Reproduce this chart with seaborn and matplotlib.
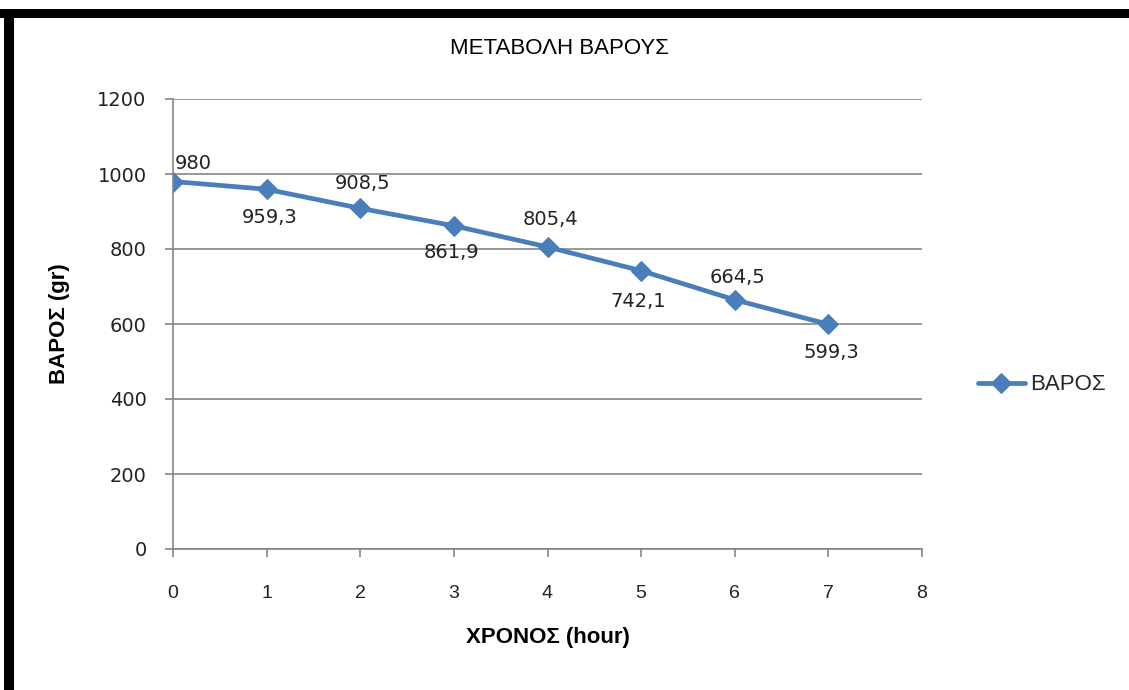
import matplotlib
matplotlib.use("Agg")
import matplotlib.pyplot as plt
import seaborn as sns
import pandas as pd
from matplotlib.patches import Rectangle

hours = [0, 1, 2, 3, 4, 5, 6, 7]
weights = [980, 959.3, 908.5, 861.9, 805.4, 742.1, 664.5, 599.3]
point_labels = ["980", "959,3", "908,5", "861,9", "805,4", "742,1", "664,5", "599,3"]
series_name = "ΒΑΡΟΣ"
title = "ΜΕΤΑΒΟΛΗ ΒΑΡΟΥΣ"
xlabel = "ΧΡΟΝΟΣ (hour)"
ylabel = "ΒΑΡΟΣ (gr)"
yticks = [0, 200, 400, 600, 800, 1000, 1200]
xticks = [0, 1, 2, 3, 4, 5, 6, 7, 8]

sns.set_theme(style="white")
plt.rcParams['font.family'] = ['DejaVu Sans']
narrow = ['Liberation Sans', 'DejaVu Sans']

W, H = 1129, 690
fig = plt.figure(figsize=(W / 100, H / 100), dpi=100)
ax = fig.add_axes([173 / W, 1 - 549 / H, (922 - 173) / W, (549 - 99) / H])

df = pd.DataFrame({"hour": hours, "weight": weights})
color = "#4A7EBB"
sns.lineplot(data=df, x="hour", y="weight", ax=ax, color=color, linewidth=3.4,
             marker="D", markersize=10, markeredgecolor=color, label=series_name)

ax.set_xlim(0, 8)
ax.set_ylim(0, 1200)
ax.set_xticks(xticks)
ax.set_yticks(yticks)
ax.set_xticklabels([str(t) for t in xticks])
ax.set_yticklabels([str(t) for t in yticks])
gc = "#868686"
ax.yaxis.grid(True, color=gc, linewidth=1.2)
ax.xaxis.grid(False)
for s in ["top", "right"]:
    ax.spines[s].set_visible(False)
for s in ["left", "bottom"]:
    ax.spines[s].set_color(gc)
    ax.spines[s].set_linewidth(1.2)
ax.tick_params(axis="y", direction="out", length=6, width=1.2, color=gc,
               labelsize=14, pad=13, left=True, labelcolor="#222222")
ax.tick_params(axis="x", direction="out", length=6, width=1.2, color=gc,
               labelsize=14, pad=20, bottom=True, labelcolor="#222222")
for lab in ax.get_xticklabels():
    lab.set_fontfamily(narrow)
ax.set_xlabel(xlabel, fontsize=16, fontweight="bold", family=narrow, labelpad=18,
              color="black")
ax.set_ylabel(ylabel, fontsize=16, fontweight="bold", family=narrow, labelpad=20,
              color="black")

# data labels
offsets = [(1, 13, "left"), (2, -20, "center"), (2, 18, "center"), (-2, -19, "center"),
           (2, 20, "center"), (-2, -22, "center"), (2, 16, "center"), (2, -20, "center")]
for x, y, t, (dx, dy, ha) in zip(hours, weights, point_labels, offsets):
    ax.annotate(t, (x, y), xytext=(dx, dy), textcoords="offset points",
                ha=ha, va="center", fontsize=14, color="#222222")

leg = ax.legend(loc="center left", bbox_to_anchor=(958 / W, 1 - 385 / H),
                bbox_transform=fig.transFigure, frameon=False, handlelength=2.1,
                handletextpad=0.25, prop={"family": narrow, "size": 16})

fig.text(560 / W, 1 - 48 / H, title, ha="center", va="center", fontsize=16,
         family=narrow, color="black")

# black frame at top and left
fig.add_artist(Rectangle((0, 1 - 18 / H), 1, 9 / H, transform=fig.transFigure,
                         facecolor="black", edgecolor="none"))
fig.add_artist(Rectangle((4 / W, 0), 10 / W, 1 - 9 / H, transform=fig.transFigure,
                         facecolor="black", edgecolor="none"))

fig.savefig("out.png", dpi=100)
